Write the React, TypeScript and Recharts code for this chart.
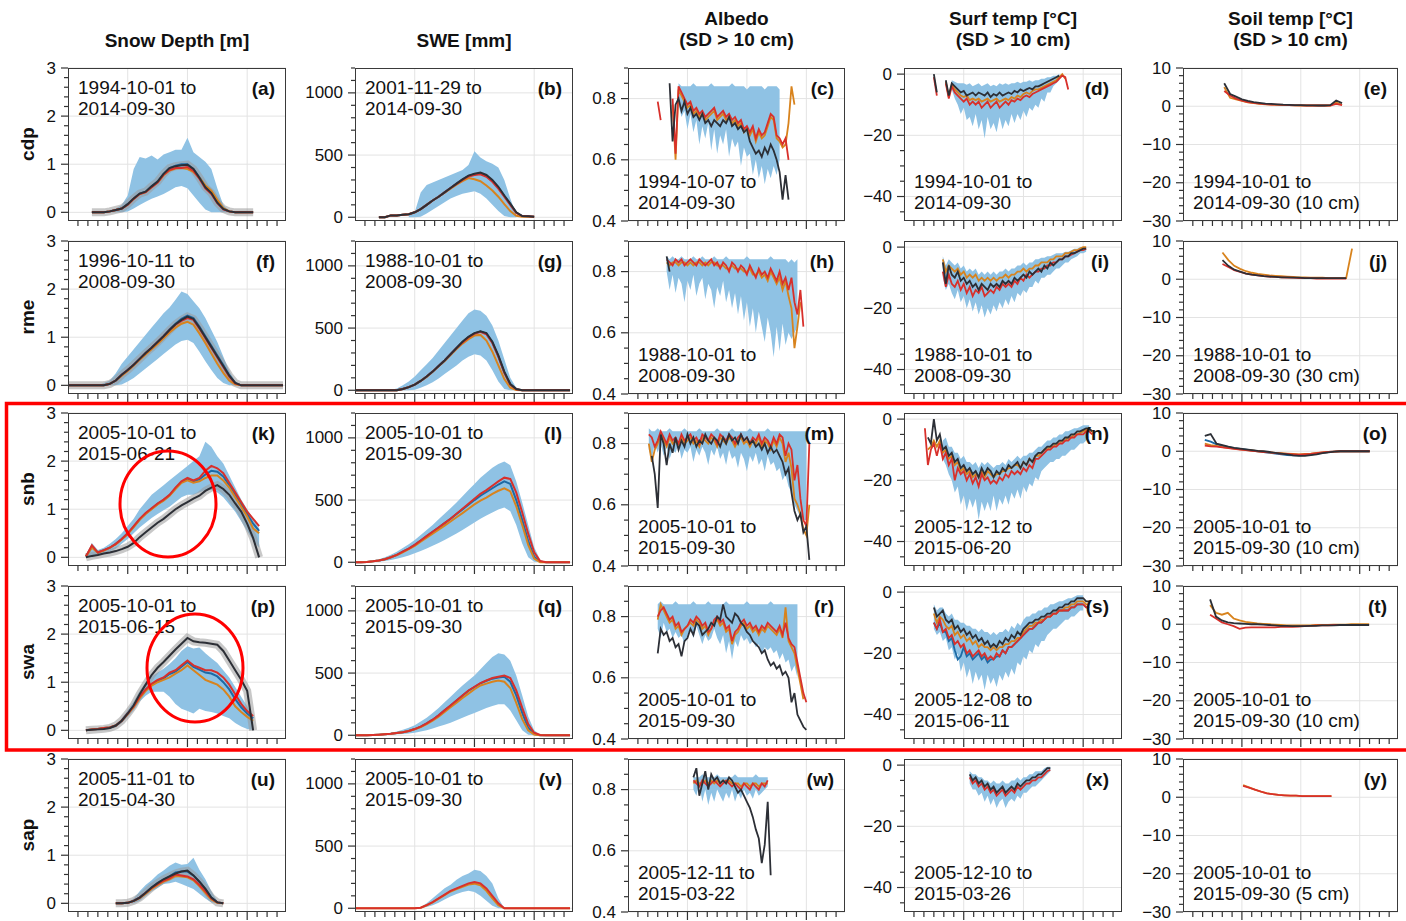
import React from "react";
import { ComposedChart, Line, Area, XAxis, YAxis, CartesianGrid } from "recharts";

// ---- layout ----
const FONT = '"Liberation Sans", Arial, Helvetica, sans-serif';
const AW = 60; // y-axis width
const MT = 12;
const MR = 2;
const PH = 153; // plot height
const XH = 12; // x-axis height
const ROW_TOPS = [68, 241, 413, 586, 759];
const ROW_NAMES = ["cdp", "rme", "snb", "swa", "sap"];

const C = {
  band: "#8fc2e4",
  red: "#d8302b",
  org: "#d8831d",
  blk: "#2c2f36",
  blu: "#1d6aa5",
  halo: "#9a9a9a",
  grid: "#e3e3e3",
  frame: "#3a3a3a",
};

// ---- axis ticks ----
const xTicks = [16.67, 33.33, 50, 66.67, 83.33, 100, 116.67, 133.33, 150, 166.67, 183.33, 200, 216.67, 233.33, 250, 266.67, 283.33, 300, 316.67, 333.33, 350];
const xMajor = [100, 200, 300];
const sdTicks = [0, 0.2, 0.4, 0.6, 0.8, 1, 1.2, 1.4, 1.6, 1.8, 2, 2.2, 2.4, 2.6, 2.8, 3];
const sdMajor = [0, 1, 2, 3];
const sweTicks = [0, 100, 200, 300, 400, 500, 600, 700, 800, 900, 1000, 1100, 1200];
const sweMajor = [0, 500, 1000];
const albTicks = [0.4, 0.45, 0.5, 0.55, 0.6, 0.65, 0.7, 0.75, 0.8, 0.85, 0.9];
const albMajor = [0.4, 0.6, 0.8];
const surfTicks = [-45, -40, -35, -30, -25, -20, -15, -10, -5, 0];
const surfMajor = [-40, -20, 0];
const soilTicks = [-30, -28, -26, -24, -22, -20, -18, -16, -14, -12, -10, -8, -6, -4, -2, 0, 2, 4, 6, 8, 10];
const soilMajor = [-30, -20, -10, 0, 10];

// ---- column titles ----
const TITLES = [
  ["Snow Depth [m]"],
  ["SWE [mm]"],
  ["Albedo", "(SD > 10 cm)"],
  ["Surf temp [°C]", "(SD > 10 cm)"],
  ["Soil temp [°C]", "(SD > 10 cm)"],
];

// ================= DATA (day of water year) =================
// (a) cdp snow depth, start 40, step 10
const aObs = [0, 0, 0, 0.02, 0.05, 0.08, 0.17, 0.29, 0.39, 0.43, 0.54, 0.64, 0.8, 0.92, 0.96, 0.98, 0.99, 0.9, 0.72, 0.52, 0.4, 0.2, 0.07, 0.02, 0, 0, 0, 0];
const aRed = [0, 0, 0, 0.02, 0.05, 0.08, 0.16, 0.28, 0.38, 0.42, 0.52, 0.62, 0.78, 0.88, 0.92, 0.92, 0.94, 0.86, 0.7, 0.5, 0.38, 0.19, 0.06, 0.02, 0, 0, 0, 0];
const aOrg = [0, 0, 0, 0.02, 0.05, 0.08, 0.16, 0.28, 0.38, 0.42, 0.52, 0.62, 0.77, 0.87, 0.91, 0.92, 0.9, 0.84, 0.72, 0.56, 0.45, 0.26, 0.09, 0.02, 0, 0, 0, 0];
const aBlu = [0, 0, 0, 0.02, 0.05, 0.08, 0.17, 0.29, 0.39, 0.43, 0.54, 0.64, 0.8, 0.92, 0.97, 1.0, 1.0, 0.9, 0.73, 0.53, 0.41, 0.21, 0.07, 0.02, 0, 0, 0, 0];
const aLo = [null, null, null, 0, 0, 0, 0.02, 0.08, 0.15, 0.22, 0.28, 0.33, 0.38, 0.45, 0.52, 0.55, 0.5, 0.35, 0.2, 0.06, 0, 0, 0, 0];
const aHi = [null, null, null, 0.05, 0.08, 0.15, 0.35, 0.9, 1.15, 1.12, 1.18, 1.1, 1.2, 1.25, 1.3, 1.3, 1.55, 1.25, 1.15, 1.05, 0.9, 0.5, 0.15, 0.03];

// (f) rme snow depth, start 0, step 10
const fObs = [0, 0, 0, 0, 0, 0, 0, 0.03, 0.1, 0.22, 0.32, 0.43, 0.55, 0.67, 0.78, 0.9, 1.02, 1.15, 1.27, 1.36, 1.43, 1.38, 1.2, 1.0, 0.8, 0.6, 0.4, 0.2, 0.05, 0, 0, 0, 0, 0, 0, 0, 0];
const fRed = [0, 0, 0, 0, 0, 0, 0, 0.03, 0.1, 0.22, 0.32, 0.43, 0.55, 0.67, 0.78, 0.9, 1.02, 1.15, 1.26, 1.34, 1.4, 1.36, 1.18, 0.98, 0.78, 0.58, 0.38, 0.18, 0.04, 0, 0, 0, 0, 0, 0, 0, 0];
const fOrg = [0, 0, 0, 0, 0, 0, 0, 0.03, 0.1, 0.2, 0.3, 0.41, 0.53, 0.64, 0.75, 0.86, 0.98, 1.1, 1.2, 1.28, 1.32, 1.26, 1.08, 0.88, 0.66, 0.45, 0.26, 0.1, 0.02, 0, 0, 0, 0, 0, 0, 0, 0];
const fBlu = [0, 0, 0, 0, 0, 0, 0, 0.03, 0.1, 0.22, 0.32, 0.43, 0.55, 0.67, 0.78, 0.9, 1.02, 1.16, 1.28, 1.38, 1.45, 1.4, 1.22, 1.02, 0.82, 0.62, 0.42, 0.21, 0.05, 0, 0, 0, 0, 0, 0, 0, 0];
const fLo = [0, 0, 0, 0, 0, 0, 0, 0, 0, 0.02, 0.08, 0.15, 0.25, 0.35, 0.45, 0.55, 0.65, 0.75, 0.85, 0.92, 0.95, 0.88, 0.7, 0.5, 0.32, 0.15, 0.05, 0, 0, 0, 0, 0, 0, 0, 0, 0, 0];
const fHi = [0, 0, 0, 0, 0, 0, 0.05, 0.1, 0.25, 0.45, 0.6, 0.75, 0.9, 1.05, 1.2, 1.35, 1.5, 1.62, 1.78, 1.95, 1.9, 1.75, 1.6, 1.4, 1.15, 0.9, 0.6, 0.3, 0.08, 0, 0, 0, 0, 0, 0, 0, 0];

// (k) snb snow depth, start 30, step 10
const kObs = [0, 0.03, 0.05, 0.08, 0.1, 0.13, 0.17, 0.22, 0.3, 0.42, 0.52, 0.62, 0.72, 0.8, 0.9, 1.0, 1.08, 1.15, 1.22, 1.28, 1.38, 1.45, 1.5, 1.42, 1.3, 1.12, 0.95, 0.7, 0.4, 0];
const kRed = [0.02, 0.25, 0.1, 0.15, 0.2, 0.28, 0.38, 0.5, 0.65, 0.8, 0.92, 1.02, 1.12, 1.2, 1.3, 1.45, 1.58, 1.65, 1.6, 1.65, 1.8, 1.9, 1.85, 1.75, 1.55, 1.35, 1.15, 0.95, 0.8, 0.65];
const kOrg = [0.02, 0.2, 0.1, 0.14, 0.2, 0.27, 0.37, 0.48, 0.63, 0.78, 0.9, 1.0, 1.1, 1.18, 1.28, 1.42, 1.55, 1.6, 1.55, 1.58, 1.65, 1.7, 1.7, 1.6, 1.45, 1.25, 1.05, 0.85, 0.6, 0.5];
const kBlu = [0.02, 0.22, 0.1, 0.15, 0.2, 0.28, 0.38, 0.5, 0.64, 0.79, 0.91, 1.01, 1.11, 1.19, 1.29, 1.44, 1.56, 1.63, 1.58, 1.62, 1.72, 1.8, 1.78, 1.68, 1.5, 1.3, 1.1, 0.9, 0.7, 0.55];
const kLo = [0, 0, 0.05, 0.08, 0.12, 0.18, 0.28, 0.38, 0.5, 0.62, 0.72, 0.82, 0.9, 0.98, 1.05, 1.15, 1.25, 1.3, 1.3, 1.35, 1.4, 1.4, 1.35, 1.25, 1.1, 0.95, 0.75, 0.55, 0.35, 0.2];
const kHi = [0.05, 0.3, 0.15, 0.2, 0.28, 0.38, 0.5, 0.65, 0.8, 1.0, 1.15, 1.3, 1.4, 1.5, 1.6, 1.7, 1.8, 1.9, 2.0, 2.1, 2.4, 2.3, 2.1, 1.95, 1.7, 1.45, 1.2, 1.0, 0.8, 0.6];

// (p) swa snow depth, start 30, step 10
const pObs = [0, 0.01, 0.02, 0.03, 0.05, 0.1, 0.2, 0.35, 0.52, 0.75, 0.95, 1.15, 1.3, 1.42, 1.55, 1.68, 1.8, 1.92, 1.85, 1.83, 1.82, 1.8, 1.78, 1.65, 1.45, 1.25, 1.05, 0.82, 0];
const pRed = [0, 0.02, 0.03, 0.05, 0.06, 0.1, 0.2, 0.35, 0.5, 0.7, 0.85, 0.97, 1.05, 1.1, 1.2, 1.25, 1.35, 1.45, 1.35, 1.3, 1.25, 1.25, 1.2, 1.1, 0.95, 0.75, 0.55, 0.4, 0.3];
const pOrg = [0, 0.02, 0.03, 0.05, 0.06, 0.1, 0.2, 0.34, 0.48, 0.67, 0.82, 0.93, 1.0, 1.05, 1.1, 1.18, 1.25, 1.35, 1.25, 1.15, 1.05, 1.0, 0.95, 0.85, 0.7, 0.5, 0.38, 0.28, 0.2];
const pBlu = [0, 0.02, 0.03, 0.05, 0.06, 0.1, 0.2, 0.35, 0.5, 0.69, 0.84, 0.95, 1.03, 1.08, 1.17, 1.22, 1.32, 1.42, 1.32, 1.26, 1.2, 1.18, 1.12, 1.0, 0.85, 0.65, 0.48, 0.35, 0.25];
const pLo = [0, 0, 0, 0.02, 0.03, 0.06, 0.15, 0.28, 0.42, 0.6, 0.72, 0.8, 0.8, 0.8, 0.7, 0.55, 0.45, 0.4, 0.35, 0.45, 0.4, 0.38, 0.35, 0.3, 0.25, 0.15, 0.08, 0.03, 0];
const pHi = [0.02, 0.03, 0.05, 0.06, 0.08, 0.12, 0.25, 0.42, 0.6, 0.82, 1.0, 1.12, 1.2, 1.28, 1.38, 1.5, 1.65, 1.75, 1.7, 1.72, 1.6, 1.5, 1.4, 1.25, 1.1, 0.9, 0.7, 0.5, 0.3];

// (u) sap snow depth, start 80, step 10
const uObs = [0, 0, 0.01, 0.05, 0.12, 0.22, 0.33, 0.42, 0.5, 0.56, 0.62, 0.66, 0.68, 0.58, 0.45, 0.3, 0.12, 0.02, 0];
const uRed = [0, 0, 0.01, 0.05, 0.12, 0.22, 0.32, 0.4, 0.47, 0.52, 0.6, 0.58, 0.56, 0.5, 0.38, 0.25, 0.1, 0.02, 0];
const uOrg = [0, 0, 0.01, 0.05, 0.11, 0.2, 0.3, 0.38, 0.45, 0.5, 0.57, 0.56, 0.54, 0.48, 0.36, 0.22, 0.08, 0.01, 0];
const uBlu = [0, 0, 0.01, 0.05, 0.12, 0.22, 0.33, 0.42, 0.5, 0.56, 0.64, 0.66, 0.66, 0.58, 0.45, 0.3, 0.12, 0.02, 0];
const uLo = [null, null, 0, 0, 0.05, 0.15, 0.25, 0.32, 0.4, 0.42, 0.45, 0.4, 0.35, 0.3, 0.2, 0.1, 0.02, 0, 0];
const uHi = [null, null, 0.02, 0.1, 0.25, 0.38, 0.48, 0.6, 0.68, 0.78, 0.85, 0.8, 0.82, 0.95, 0.7, 0.5, 0.25, 0.05, 0];

// (b) cdp SWE, start 40, step 10
const bObs = [0, 0, 15, 15, 20, 25, 40, 65, 100, 135, 165, 200, 235, 270, 305, 335, 350, 360, 340, 300, 245, 175, 110, 40, 10, 8, 5];
const bRed = [0, 0, 15, 15, 20, 25, 40, 65, 100, 135, 165, 200, 235, 268, 300, 328, 340, 345, 325, 285, 230, 165, 100, 35, 10, 8, 5];
const bOrg = [0, 0, 15, 15, 20, 25, 40, 65, 100, 135, 165, 198, 230, 262, 290, 315, 305, 290, 255, 215, 165, 105, 50, 12, 5, 5, 5];
const bBlu = [0, 0, 15, 15, 20, 25, 40, 65, 100, 135, 165, 200, 235, 270, 302, 332, 345, 352, 332, 292, 238, 170, 105, 38, 10, 8, 5];
const bLo = [null, null, null, null, null, 0, 0, 5, 30, 60, 90, 120, 150, 170, 190, 200, 210, 190, 150, 100, 50, 10, 0, 0];
const bHi = [null, null, null, null, null, 20, 40, 200, 260, 280, 300, 320, 340, 360, 380, 420, 530, 480, 450, 430, 400, 300, 150, 20];

// (g) rme SWE, start 0, step 10
const gObs = [0, 0, 0, 0, 0, 0, 0, 0, 10, 25, 45, 75, 110, 150, 195, 240, 290, 340, 390, 430, 460, 475, 460, 390, 280, 150, 50, 10, 0, 0, 0, 0, 0, 0, 0, 0, 0];
const gRed = [0, 0, 0, 0, 0, 0, 0, 0, 10, 25, 45, 75, 110, 150, 195, 240, 290, 340, 385, 425, 455, 470, 450, 380, 270, 140, 45, 8, 0, 0, 0, 0, 0, 0, 0, 0, 0];
const gOrg = [0, 0, 0, 0, 0, 0, 0, 0, 10, 25, 45, 75, 108, 148, 192, 236, 284, 332, 375, 410, 440, 445, 400, 310, 200, 90, 20, 2, 0, 0, 0, 0, 0, 0, 0, 0, 0];
const gBlu = [0, 0, 0, 0, 0, 0, 0, 0, 10, 25, 45, 75, 110, 150, 195, 240, 290, 340, 388, 428, 458, 472, 455, 385, 275, 145, 48, 9, 0, 0, 0, 0, 0, 0, 0, 0, 0];
const gLo = [0, 0, 0, 0, 0, 0, 0, 0, 0, 0, 5, 20, 40, 65, 95, 130, 165, 200, 240, 270, 290, 280, 240, 160, 70, 10, 0, 0, 0, 0, 0, 0, 0, 0, 0, 0, 0];
const gHi = [0, 0, 0, 0, 0, 0, 5, 15, 40, 70, 110, 160, 210, 260, 320, 380, 440, 500, 560, 620, 650, 640, 600, 520, 400, 250, 100, 20, 0, 0, 0, 0, 0, 0, 0, 0, 0];

// (l) snb SWE, start 0, step 10
const lRed = [0, 0, 3, 8, 15, 25, 40, 60, 85, 110, 140, 175, 210, 245, 280, 315, 350, 390, 430, 470, 510, 550, 580, 615, 650, 680, 670, 560, 400, 230, 80, 10, 0, 0, 0, 0, 0];
const lBlu = [0, 0, 3, 8, 15, 25, 40, 60, 85, 110, 140, 175, 210, 245, 280, 315, 350, 388, 425, 462, 500, 535, 565, 595, 625, 650, 630, 500, 340, 170, 45, 5, 0, 0, 0, 0, 0];
const lOrg = [0, 0, 3, 8, 15, 25, 40, 58, 80, 105, 132, 165, 198, 230, 262, 295, 328, 362, 395, 430, 465, 495, 520, 550, 575, 595, 570, 450, 300, 140, 30, 0, 0, 0, 0, 0, 0];
const lLo = [0, 0, 0, 2, 5, 10, 18, 28, 40, 55, 72, 90, 110, 132, 155, 180, 205, 232, 260, 290, 320, 350, 375, 400, 425, 440, 410, 300, 150, 40, 5, 0, 0, 0, 0, 0, 0];
const lHi = [0, 0, 6, 15, 25, 40, 60, 85, 115, 145, 180, 220, 260, 300, 345, 390, 435, 480, 530, 580, 630, 680, 720, 760, 790, 810, 780, 650, 480, 300, 120, 20, 0, 0, 0, 0, 0];

// (q) swa SWE, start 0, step 10
const qRed = [0, 0, 0, 2, 5, 8, 12, 18, 25, 35, 50, 70, 95, 125, 160, 200, 240, 280, 320, 360, 390, 420, 440, 460, 470, 480, 460, 360, 220, 90, 20, 2, 0, 0, 0, 0, 0];
const qBlu = [0, 0, 0, 2, 5, 8, 12, 18, 25, 35, 50, 70, 95, 125, 160, 200, 240, 280, 320, 358, 388, 418, 438, 455, 465, 470, 430, 320, 180, 60, 10, 0, 0, 0, 0, 0, 0];
const qOrg = [0, 0, 0, 2, 5, 8, 12, 18, 25, 35, 48, 66, 90, 118, 150, 188, 225, 262, 300, 335, 370, 400, 415, 430, 440, 430, 380, 260, 130, 40, 5, 0, 0, 0, 0, 0, 0];
const qLo = [0, 0, 0, 0, 0, 2, 5, 8, 10, 15, 20, 30, 40, 55, 70, 85, 100, 120, 140, 160, 180, 200, 220, 235, 250, 250, 200, 120, 40, 5, 0, 0, 0, 0, 0, 0, 0];
const qHi = [0, 0, 0, 5, 10, 15, 20, 30, 45, 60, 80, 110, 140, 180, 220, 265, 310, 355, 400, 440, 480, 530, 580, 630, 660, 650, 600, 480, 320, 150, 40, 5, 0, 0, 0, 0, 0];

// (v) sap SWE, start 0, step 10
const vRed = [0, 0, 0, 0, 0, 0, 0, 0, 0, 0, 0, 5, 25, 50, 80, 110, 140, 160, 180, 200, 210, 200, 160, 100, 40, 0, 0, 0, 0, 0, 0, 0, 0, 0, 0, 0, 0];
const vOrg = [0, 0, 0, 0, 0, 0, 0, 0, 0, 0, 0, 5, 24, 48, 77, 106, 135, 155, 172, 190, 198, 185, 140, 80, 25, 0, 0, 0, 0, 0, 0, 0, 0, 0, 0, 0, 0];
const vLo = [null, null, null, null, null, null, null, null, null, null, null, 0, 10, 25, 45, 70, 95, 115, 130, 140, 130, 100, 60, 20, 0, 0];
const vHi = [null, null, null, null, null, null, null, null, null, null, null, 10, 40, 80, 120, 160, 190, 230, 260, 280, 310, 300, 260, 200, 80, 0];

// (c) cdp albedo, start 50, step 5
const cObs = [null, null, null, null, 0.85, 0.66, 0.78, 0.8, 0.76, 0.79, 0.75, 0.77, 0.74, 0.75, 0.73, 0.75, 0.72, 0.73, 0.71, 0.73, 0.72, 0.71, 0.73, 0.72, 0.74, 0.71, 0.72, 0.7, 0.71, 0.69, 0.7, 0.66, 0.64, 0.62, 0.63, 0.61, 0.64, 0.62, 0.65, 0.63, 0.6, 0.56, 0.47, 0.55, 0.47];
const cRed = [0.79, 0.73, null, null, null, 0.8, 0.62, 0.84, 0.82, 0.8, 0.78, 0.79, 0.76, 0.77, 0.75, 0.76, 0.74, 0.75, 0.76, 0.77, 0.74, 0.75, 0.76, 0.74, 0.75, 0.73, 0.74, 0.72, 0.73, 0.7, 0.71, 0.69, 0.71, 0.67, 0.7, 0.68, 0.69, 0.72, 0.75, 0.74, 0.68, 0.67, 0.65, 0.67, 0.6];
const cOrg = [null, null, null, null, null, 0.78, 0.6, 0.83, 0.81, 0.79, 0.77, 0.78, 0.75, 0.76, 0.74, 0.75, 0.73, 0.74, 0.75, 0.76, 0.73, 0.74, 0.75, 0.73, 0.74, 0.72, 0.73, 0.71, 0.72, 0.69, 0.7, 0.68, 0.7, 0.66, 0.69, 0.67, 0.68, 0.71, 0.74, 0.73, 0.67, 0.66, 0.64, 0.65, 0.72, 0.84, 0.78];
const cLo = [null, null, null, null, null, null, null, 0.78, 0.74, 0.76, 0.7, 0.75, 0.69, 0.73, 0.65, 0.71, 0.67, 0.72, 0.63, 0.7, 0.62, 0.68, 0.65, 0.7, 0.61, 0.67, 0.64, 0.66, 0.58, 0.64, 0.61, 0.62, 0.55, 0.6, 0.54, 0.58, 0.52, 0.57, 0.54, 0.58, 0.55, 0.6];
const cHi = [null, null, null, null, null, null, null, 0.85, 0.84, 0.84, 0.84, 0.84, 0.85, 0.84, 0.84, 0.84, 0.84, 0.84, 0.85, 0.84, 0.84, 0.84, 0.84, 0.84, 0.84, 0.85, 0.84, 0.84, 0.84, 0.84, 0.83, 0.84, 0.84, 0.84, 0.84, 0.84, 0.83, 0.84, 0.84, 0.84, 0.84, 0.83];

// (h) rme albedo, start 65, step 5
const hObs = [0.85, 0.8];
const hRed = [0.84, 0.83, 0.82, 0.84, 0.83, 0.84, 0.82, 0.83, 0.84, 0.83, 0.82, 0.84, 0.83, 0.82, 0.83, 0.84, 0.82, 0.83, 0.81, 0.83, 0.82, 0.8, 0.83, 0.82, 0.8, 0.82, 0.81, 0.79, 0.82, 0.8, 0.78, 0.81, 0.79, 0.8, 0.78, 0.81, 0.79, 0.77, 0.8, 0.76, 0.78, 0.74, 0.78, 0.7, 0.66, 0.74, 0.62];
const hOrg = [0.83, 0.82, 0.83, 0.83, 0.82, 0.83, 0.83, 0.82, 0.83, 0.82, 0.83, 0.83, 0.82, 0.83, 0.82, 0.83, 0.83, 0.82, 0.82, 0.82, 0.81, 0.81, 0.82, 0.81, 0.81, 0.81, 0.8, 0.8, 0.81, 0.79, 0.79, 0.8, 0.78, 0.79, 0.77, 0.8, 0.78, 0.76, 0.78, 0.74, 0.77, 0.72, 0.68, 0.55, 0.62, 0.7];
const hLo = [0.8, 0.74, 0.79, 0.73, 0.78, 0.76, 0.7, 0.77, 0.74, 0.79, 0.72, 0.76, 0.78, 0.71, 0.76, 0.74, 0.68, 0.75, 0.72, 0.77, 0.7, 0.74, 0.68, 0.73, 0.66, 0.72, 0.64, 0.7, 0.62, 0.68, 0.6, 0.67, 0.62, 0.57, 0.65, 0.6, 0.52, 0.62, 0.54, 0.63, 0.56, 0.6, 0.58, 0.6, 0.62];
const hHi = [0.85, 0.84, 0.85, 0.84, 0.84, 0.85, 0.84, 0.84, 0.84, 0.85, 0.84, 0.84, 0.85, 0.84, 0.84, 0.84, 0.85, 0.84, 0.84, 0.84, 0.85, 0.84, 0.84, 0.84, 0.84, 0.84, 0.84, 0.85, 0.84, 0.84, 0.84, 0.84, 0.84, 0.84, 0.84, 0.85, 0.84, 0.84, 0.84, 0.84, 0.84, 0.83, 0.84, 0.83, 0.84];

// (m) snb albedo, start 35, step 5
const mObs = [null, 0.76, 0.7, 0.59, 0.83, 0.8, 0.73, 0.8, 0.77, 0.82, 0.78, 0.81, 0.79, 0.83, 0.8, 0.82, 0.79, 0.81, 0.8, 0.83, 0.81, 0.8, 0.82, 0.81, 0.79, 0.82, 0.8, 0.83, 0.81, 0.82, 0.8, 0.83, 0.81, 0.82, 0.8, 0.81, 0.79, 0.8, 0.78, 0.8, 0.77, 0.79, 0.77, 0.78, 0.76, 0.74, 0.7, 0.72, 0.64, 0.58, 0.55, 0.57, 0.51, 0.53, 0.42];
const mRed = [0.83, 0.82, 0.79, 0.81, 0.84, 0.82, 0.8, 0.83, 0.81, 0.82, 0.8, 0.83, 0.81, 0.82, 0.83, 0.81, 0.82, 0.8, 0.83, 0.82, 0.81, 0.83, 0.82, 0.8, 0.83, 0.82, 0.81, 0.83, 0.82, 0.8, 0.82, 0.83, 0.81, 0.82, 0.8, 0.82, 0.81, 0.83, 0.8, 0.82, 0.81, 0.79, 0.82, 0.8, 0.83, 0.82, 0.76, 0.8, 0.78, 0.68, 0.73, 0.62, 0.55, 0.53, 0.8];
const mOrg = [0.8, 0.74, 0.78, 0.8, 0.83, 0.81, 0.79, 0.82, 0.8, 0.81, 0.79, 0.82, 0.8, 0.81, 0.82, 0.8, 0.81, 0.79, 0.82, 0.81, 0.8, 0.82, 0.81, 0.79, 0.82, 0.81, 0.8, 0.82, 0.81, 0.79, 0.81, 0.82, 0.8, 0.81, 0.79, 0.81, 0.8, 0.82, 0.79, 0.81, 0.8, 0.78, 0.81, 0.79, 0.82, 0.8, 0.74, 0.77, 0.72, 0.62, 0.6, 0.57, 0.52, 0.5, 0.6];
const mLo = [0.78, 0.75, 0.8, 0.77, 0.8, 0.76, 0.79, 0.75, 0.78, 0.77, 0.8, 0.75, 0.78, 0.77, 0.79, 0.74, 0.78, 0.76, 0.79, 0.77, 0.73, 0.78, 0.76, 0.79, 0.75, 0.77, 0.73, 0.78, 0.75, 0.76, 0.72, 0.77, 0.75, 0.71, 0.76, 0.74, 0.77, 0.73, 0.75, 0.71, 0.76, 0.73, 0.74, 0.71, 0.72, 0.68, 0.7, 0.66, 0.64, 0.6, 0.58, 0.56, 0.55, 0.55];
const mHi = [0.85, 0.84, 0.84, 0.85, 0.84, 0.84, 0.84, 0.85, 0.84, 0.84, 0.84, 0.84, 0.85, 0.84, 0.84, 0.84, 0.84, 0.85, 0.84, 0.84, 0.84, 0.84, 0.84, 0.85, 0.84, 0.84, 0.84, 0.84, 0.85, 0.84, 0.84, 0.84, 0.84, 0.84, 0.85, 0.84, 0.84, 0.84, 0.84, 0.84, 0.85, 0.84, 0.84, 0.84, 0.84, 0.84, 0.84, 0.84, 0.84, 0.84, 0.84, 0.84, 0.84, 0.84];

// (r) swa albedo, start 50, step 5
const rObs = [0.68, 0.76, 0.74, 0.75, 0.72, 0.73, 0.7, 0.71, 0.67, 0.72, 0.73, 0.76, 0.74, 0.78, 0.77, 0.74, 0.75, 0.76, 0.78, 0.77, 0.8, 0.79, 0.84, 0.8, 0.79, 0.78, 0.81, 0.8, 0.78, 0.77, 0.75, 0.74, 0.72, 0.71, 0.7, 0.68, 0.69, 0.66, 0.64, 0.65, 0.63, 0.64, 0.61, 0.62, 0.6, 0.52, 0.55, 0.48, 0.46, 0.44, 0.43];
const rRed = [0.8, 0.82, 0.83, 0.81, 0.79, 0.8, 0.77, 0.78, 0.75, 0.76, 0.77, 0.79, 0.78, 0.8, 0.79, 0.77, 0.78, 0.75, 0.76, 0.79, 0.8, 0.78, 0.79, 0.76, 0.77, 0.72, 0.75, 0.76, 0.78, 0.79, 0.77, 0.78, 0.76, 0.77, 0.75, 0.77, 0.76, 0.78, 0.77, 0.76, 0.75, 0.77, 0.74, 0.78, 0.73, 0.71, 0.7, 0.65, 0.6, 0.55, 0.52];
const rOrg = [0.79, 0.84, 0.82, 0.8, 0.78, 0.79, 0.76, 0.77, 0.74, 0.76, 0.77, 0.78, 0.77, 0.79, 0.78, 0.76, 0.77, 0.74, 0.76, 0.78, 0.79, 0.77, 0.78, 0.75, 0.76, 0.71, 0.74, 0.75, 0.77, 0.78, 0.76, 0.77, 0.75, 0.76, 0.74, 0.76, 0.75, 0.77, 0.76, 0.75, 0.74, 0.76, 0.73, 0.83, 0.72, 0.7, 0.68, 0.63, 0.58, 0.53];
const rLo = [0.76, 0.73, 0.78, 0.75, 0.76, 0.73, 0.75, 0.73, 0.74, 0.71, 0.74, 0.76, 0.73, 0.77, 0.74, 0.71, 0.74, 0.72, 0.73, 0.76, 0.73, 0.71, 0.74, 0.68, 0.72, 0.66, 0.72, 0.7, 0.74, 0.72, 0.73, 0.71, 0.72, 0.7, 0.71, 0.68, 0.7, 0.69, 0.7, 0.68, 0.69, 0.66, 0.68, 0.65, 0.66, 0.62, 0.64, 0.6];
const rHi = [0.84, 0.85, 0.84, 0.84, 0.84, 0.84, 0.85, 0.84, 0.84, 0.84, 0.84, 0.84, 0.85, 0.84, 0.84, 0.84, 0.84, 0.85, 0.84, 0.84, 0.84, 0.84, 0.84, 0.85, 0.84, 0.84, 0.84, 0.84, 0.84, 0.84, 0.85, 0.84, 0.84, 0.84, 0.84, 0.84, 0.84, 0.84, 0.85, 0.84, 0.84, 0.84, 0.84, 0.84, 0.84, 0.84, 0.84, 0.84];

// (w) sap albedo, start 110, step 5
const wObs = [0.84, 0.87, 0.78, 0.82, 0.86, 0.8, 0.85, 0.83, 0.84, 0.82, 0.83, 0.82, 0.84, 0.83, 0.81, 0.79, 0.8, 0.78, 0.76, 0.74, 0.71, 0.67, 0.64, 0.56, 0.62, 0.76, 0.52];
const wRed = [0.83, 0.82, 0.81, 0.83, 0.82, 0.81, 0.82, 0.83, 0.82, 0.81, 0.82, 0.83, 0.82, 0.81, 0.82, 0.81, 0.8, 0.82, 0.81, 0.8, 0.82, 0.81, 0.8, 0.82, 0.81, 0.83];
const wOrg = [0.82, 0.83, 0.82, 0.82, 0.83, 0.82, 0.83, 0.82, 0.83, 0.82, 0.83, 0.82, 0.83, 0.82, 0.82, 0.82, 0.81, 0.82, 0.82, 0.81, 0.82, 0.82, 0.81, 0.82, 0.82, 0.82];
const wLo = [0.8, 0.78, 0.82, 0.76, 0.8, 0.75, 0.79, 0.76, 0.8, 0.78, 0.76, 0.79, 0.77, 0.8, 0.76, 0.79, 0.77, 0.8, 0.78, 0.79, 0.77, 0.8, 0.78, 0.79, 0.8, 0.81];
const wHi = [0.84, 0.84, 0.84, 0.85, 0.84, 0.84, 0.84, 0.84, 0.85, 0.84, 0.84, 0.84, 0.84, 0.84, 0.85, 0.84, 0.84, 0.84, 0.84, 0.84, 0.84, 0.85, 0.84, 0.84, 0.84, 0.84];

// (d) cdp surface temp, start 50, step 5
const dObs = [0, -6, null, null, -2, -7, -3, -4, -5, -6, -5.5, -7, -6.5, -6, -7, -6, -6.5, -7, -6, -7.5, -6.5, -7, -6, -7, -6.5, -6, -6.5, -5.5, -6, -5, -5.5, -5, -4.5, -5, -4, -4, -3.5, -3, -2.5, -2, -1.5, -1, -0.5];
const dRed = [-1, -7, null, null, -3, -8, -4, -6, -7, -8, -9, -8, -10, -9, -10, -9, -11, -10, -9, -11, -10, -9, -11, -10, -9, -10, -8.5, -9, -8, -8.5, -7.5, -7, -7.5, -6.5, -6, -5.5, -5, -4.5, -4, -3.5, -3, -2.5, -1.5, -0.5, -1, -5];
const dOrg = [null, null, null, null, -2.5, -7.5, -3.5, -5, -6, -7, -7.5, -7, -8.5, -8, -8.5, -8, -9, -8.5, -8, -9, -8.5, -8, -9, -8.5, -8, -8.5, -7.5, -8, -7, -7.5, -6.5, -6, -6.5, -5.5, -5, -5, -4.5, -4, -3.5, -3, -2.5, -2, -1, 0, -1.5];
const dLo = [null, null, null, null, null, null, -5, -8, -10, -13, -11, -15, -14, -17, -13, -18, -15, -21, -14, -18, -16, -19, -14, -18, -15, -17, -13, -16, -13, -15, -12, -14, -11, -12, -10, -11, -8, -9, -6, -6, -4, -3, -2];
const dHi = [null, null, null, null, null, null, -2, -2.5, -3, -3, -3, -3.5, -3, -4, -3.5, -3, -4, -3.5, -3, -4, -3.5, -4, -3, -3.5, -3, -3.5, -3, -3, -2.5, -3, -2.5, -2.5, -2, -2.5, -2, -2, -1.5, -1.5, -1, -1, -0.5, -0.5, 0];

// (i) rme surface temp, start 65, step 5
const iObs = [-5, -12, -6, -9, -10, -8, -11, -10, -12, -11, -13, -12, -14, -12, -13, -14, -12, -13, -12, -13, -11, -12, -11, -12, -10, -11, -10, -9, -10, -8, -9, -8, -7, -8, -6, -7, -5, -6, -5, -4, -4, -3, -3, -2, -2, -1.5, -1, -0.5, -0.5];
const iRed = [-8, -13, -9, -12, -13, -11, -14, -12, -15, -13, -16, -14, -15, -13, -16, -15, -14, -15, -13, -14, -12, -13, -12, -13, -11, -12, -10, -11, -9, -10, -9, -8, -8, -7, -7, -6, -6, -5, -5, -4, -4, -3, -3, -2.5, -2, -1.5, -1, -1, -0.5];
const iOrg = [-4, -8, -6, -7, -8, -7, -9, -8, -10, -9, -10, -9, -11, -10, -11, -10, -11, -10, -11, -10, -10, -9, -10, -9, -9, -8, -8, -7, -8, -7, -7, -6, -6, -5, -5, -5, -4, -4, -3, -3, -3, -2, -2, -1.5, -1, -1, -0.5, 0, 0];
const iLo = [-10, -14, -12, -15, -17, -14, -18, -16, -20, -17, -21, -18, -22, -19, -23, -20, -22, -19, -21, -18, -20, -17, -19, -16, -18, -15, -16, -14, -15, -13, -13, -11, -12, -10, -10, -9, -9, -8, -7, -7, -6, -5, -5, -4, -3.5, -3, -2, -2, -1.5];
const iHi = [-3, -6, -4, -5, -6, -5, -7, -6, -8, -7, -8, -7, -9, -8, -9, -8, -9, -8, -9, -8, -8, -7, -8, -7, -7, -6, -6, -5, -6, -5, -5, -4, -4, -3.5, -3.5, -3, -3, -2.5, -2, -2, -2, -1.5, -1.5, -1, -0.5, -0.5, 0, 0, 0];

// (n) snb surface temp, start 35, step 5
const nObs = [null, -6, -8, 0, -7, -5, -10, -9, -12, -11, -14, -13, -16, -15, -17, -16, -18, -17, -19, -16, -18, -16, -17, -19, -17, -18, -16, -17, -15, -16, -15, -14, -16, -14, -15, -13, -14, -12, -11, -11, -10, -9, -9, -8, -8, -7, -7, -6, -6, -5, -5, -4, -4, -3.5, -3, -3, -4];
const nRed = [-3, -15, -10, -8, -12, -8, -13, -11, -15, -13, -20, -16, -18, -17, -20, -18, -21, -19, -22, -18, -20, -19, -21, -20, -21, -19, -20, -18, -19, -17, -18, -17, -18, -16, -17, -15, -16, -13, -13, -12, -11, -10, -10, -9, -9, -8, -8, -7, -7, -6, -6, -5, -5, -5, -4, -4, -5];
const nOrg = [null, -10, -9, -7, -9, -7, -11, -10, -13, -12, -15, -14, -17, -16, -18, -17, -19, -18, -19, -17, -19, -17, -18, -19, -18, -18, -17, -17, -16, -16, -15, -15, -16, -14, -15, -13, -14, -12, -12, -11, -10, -10, -9, -9, -8, -8, -7, -7, -6, -6, -5, -5, -4.5, -4, -3.5, -3.5, -4];
const nLo = [null, null, null, null, null, null, -13, -15, -18, -20, -24, -22, -28, -25, -30, -26, -29, -26, -33, -27, -30, -27, -30, -25, -30, -26, -28, -25, -28, -24, -26, -23, -26, -22, -24, -21, -22, -19, -20, -17, -16, -15, -14, -14, -13, -13, -12, -12, -11, -10, -10, -9, -8, -8, -7, -6];
const nHi = [null, null, null, null, null, null, -7, -6, -9, -9, -11, -11, -13, -12, -14, -14, -15, -14, -16, -14, -15, -14, -15, -16, -15, -15, -14, -15, -13, -14, -13, -12, -13, -12, -12, -11, -11, -10, -9, -9, -8, -7, -7, -6, -6, -5, -5, -4, -4, -3.5, -3, -3, -2.5, -2, -2, -2];

// (s) swa surface temp, start 50, step 5
const sObs = [-5, -8, -7, -6, -9, -10, -9, -12, -11, -13, -12, -14, -13, -15, -14, -16, -15, -17, -16, -18, -17, -18, -16, -17, -15, -16, -14, -15, -13, -14, -12, -11, -10, -10, -9, -9, -8, -8, -7, -7, -6, -6, -5, -5, -4, -4, -3, -3, -2, -2, -2, -3, -3];
const sRed = [-10, -12, -9, -13, -12, -15, -14, -17, -16, -18, -17, -20, -19, -21, -20, -19, -21, -20, -22, -21, -22, -20, -21, -19, -20, -18, -18, -17, -16, -15, -14, -13, -12, -12, -11, -10, -10, -9, -8, -8, -7, -7, -6, -6, -6, -6, -5, -5, -4, -4, -4, -5, -5];
const sOrg = [-7, -10, -8, -9, -11, -12, -11, -14, -13, -15, -14, -16, -15, -17, -16, -18, -17, -18, -18, -19, -18, -19, -18, -18, -17, -17, -16, -16, -15, -15, -13, -12, -11, -11, -10, -10, -9, -9, -8, -8, -7, -7, -6, -6, -5, -5, -4, -4, -3, -3, -3, -4, -4];
const sBlu = [-10, -12, -10, -13, -13, -16, -15, -19, -22, -21, -18, -21, -20, -22, -21, -20, -22, -21, -23, -22, -22, -21, -21, -19, -20, -18, -18, -17, -16, -15, -14, -13, -12, -12, -11, -10, -10, -9, -8, -8, -7, -7, -6, -6, -6, -6, -5, -5, -4, -4, -4, -5, -5];
const sLo = [-12, -14, -13, -16, -15, -19, -18, -22, -20, -26, -23, -28, -25, -30, -26, -29, -27, -32, -27, -30, -28, -31, -27, -29, -26, -28, -25, -27, -23, -24, -21, -22, -19, -20, -17, -18, -16, -16, -14, -13, -12, -12, -11, -10, -9, -9, -8, -8, -7, -6, -6];
const sHi = [-4, -6, -5, -5, -7, -8, -7, -9, -9, -10, -10, -11, -11, -12, -12, -13, -12, -13, -13, -14, -13, -14, -13, -13, -12, -13, -11, -12, -10, -11, -9, -8, -8, -7, -7, -6, -6, -5, -5, -4, -4, -3.5, -3, -3, -2.5, -2, -2, -1.5, -1, -1, -1];

// (x) sap surface temp, start 110, step 5
const xObs = [-3, -5, -4, -6, -5, -7, -6, -8, -7, -9, -8, -7, -9, -8, -7, -8, -6, -7, -6, -5, -5, -4, -4, -3, -3, -2, -1, -1];
const xRed = [-4, -6, -5, -7, -6, -8, -7, -9, -8, -10, -9, -8, -10, -9, -8, -9, -7, -8, -7, -6, -6, -5, -5, -4, -4, -3, -2, -1.5];
const xLo = [-6, -8, -8, -10, -9, -12, -10, -13, -11, -14, -12, -11, -14, -12, -11, -12, -10, -11, -9, -9, -8, -7, -7, -6, -5, -4, -3, -2];
const xHi = [-2, -3, -3, -4, -4, -5, -5, -6, -5, -6, -6, -5, -6, -6, -5, -5, -4, -5, -4, -4, -3, -3, -2, -2, -2, -1, -0.5, -0.5];

// (e) cdp soil temp, start 70, step 10
const eObs = [6, 3.2, 2.5, 1.8, 1.4, 1.1, 0.9, 0.7, 0.6, 0.5, 0.4, 0.35, 0.3, 0.3, 0.25, 0.25, 0.2, 0.2, 0.3, 1.5, 0.8];
const eRed = [4, 2.8, 2.0, 1.5, 1.1, 0.9, 0.7, 0.55, 0.45, 0.4, 0.35, 0.3, 0.25, 0.25, 0.2, 0.2, 0.2, 0.2, 0.2, 0.6, 0.3];
const eOrg = [5, 2.2, 1.8, 1.4, 1.0, 0.8, 0.6, 0.5, 0.4, 0.35, 0.3, 0.3, 0.25, 0.2, 0.2, 0.2, 0.2, 0.2, 0.2, 1.0, 0.4];

// (j) rme soil temp, start 67, step 10
const jObs = [5, 3.5, 2.5, 2, 1.5, 1.2, 1, 0.8, 0.7, 0.6, 0.5, 0.5, 0.4, 0.4, 0.3, 0.3, 0.3, 0.3, 0.3, 0.3, 0.3, 0.3];
const jRed = [4, 3.2, 2.4, 1.9, 1.5, 1.2, 1, 0.8, 0.7, 0.6, 0.5, 0.4, 0.4, 0.3, 0.3, 0.3, 0.2, 0.2, 0.2, 0.2, 0.2, 0.2];
const jOrg = [7, 5, 3.5, 2.7, 2.1, 1.7, 1.4, 1.2, 1, 0.9, 0.8, 0.7, 0.6, 0.5, 0.5, 0.4, 0.4, 0.4, 0.3, 0.3, 0.3, 0.3, 8];

// (o) snb soil temp, start 37, step 10
const oObs = [4, 4.5, 2, 1.6, 1.2, 0.9, 0.7, 0.5, 0.3, 0.1, 0, -0.2, -0.4, -0.6, -0.8, -1.1, -1.2, -1.2, -1.0, -0.8, -0.5, -0.3, -0.1, 0, 0, 0, 0, 0, 0];
const oRed = [1.5, 1.3, 1.2, 1.0, 0.8, 0.6, 0.4, 0.3, 0.1, 0, -0.2, -0.3, -0.5, -0.6, -0.7, -0.8, -0.9, -0.8, -0.7, -0.5, -0.3, -0.2, -0.1, 0, 0, 0, 0, 0, 0];
const oOrg = [2, 1.6, 1.4, 1.1, 0.9, 0.7, 0.5, 0.3, 0.2, 0, -0.1, -0.3, -0.4, -0.5, -0.6, -0.7, -0.8, -0.7, -0.6, -0.4, -0.3, -0.2, -0.1, 0, 0, 0, 0, 0, 0];
const oBlu = [3, 2.5, 1.8, 1.4, 1.1, 0.8, 0.6, 0.4, 0.2, 0, -0.2, -0.4, -0.6, -0.8, -1.0, -1.1, -1.1, -1.0, -0.9, -0.6, -0.4, -0.2, -0.1, 0, 0, 0, 0, 0, 0];

// (t) swa soil temp, start 46, step 10
const tObs = [6.5, 2, 1, 0.5, 0.3, 0.2, 0.1, 0, 0, -0.1, -0.2, -0.3, -0.4, -0.4, -0.5, -0.5, -0.5, -0.4, -0.4, -0.3, -0.3, -0.3, -0.2, -0.2, -0.2, -0.2, -0.2, -0.2];
const tOrg = [5, 3, 2.5, 3, 1.5, 1, 0.6, 0.4, 0.2, 0.1, 0, -0.1, -0.2, -0.3, -0.3, -0.3, -0.3, -0.3, -0.2, -0.2, -0.2, -0.1, -0.1, -0.1, 0, 0, 0, 0];
const tRed = [2.5, 1.5, 0.5, 0, -0.5, -1.2, -0.9, -0.8, -0.8, -0.8, -0.8, -0.8, -0.7, -0.7, -0.7, -0.6, -0.5, -0.4, -0.3, -0.3, -0.3, -0.2, -0.2, -0.2, -0.2, -0.2, -0.2];

// (y) sap soil temp, start 102, step 10
const yRed = [3, 2.5, 2, 1.5, 1, 0.8, 0.6, 0.5, 0.4, 0.4, 0.3, 0.3, 0.3, 0.3, 0.3, 0.3];
const yOrg = [3.2, 2.6, 2, 1.5, 1.1, 0.8, 0.6, 0.5, 0.4, 0.4, 0.3, 0.3, 0.3, 0.3, 0.3, 0.3];

// ================= configuration =================
type Arr = (number | null)[];
type Col = { left: number; width: number; domain: [number, number]; ticks: number[]; major: number[]; textBottom: boolean };
const COLS: Col[] = [
  { left: 68, width: 218, domain: [-0.18, 3], ticks: sdTicks, major: sdMajor, textBottom: false },
  { left: 355, width: 218, domain: [-30, 1200], ticks: sweTicks, major: sweMajor, textBottom: false },
  { left: 628, width: 217, domain: [0.4, 0.9], ticks: albTicks, major: albMajor, textBottom: true },
  { left: 904, width: 218, domain: [-48, 2], ticks: surfTicks, major: surfMajor, textBottom: true },
  { left: 1183, width: 215, domain: [-30, 10], ticks: soilTicks, major: soilMajor, textBottom: true },
];

type PanelDef = {
  id: string; col: number; row: number; start: number; step: number;
  lo?: Arr; hi?: Arr; obs?: Arr; red?: Arr; org?: Arr; blu?: Arr;
  text: [string, string];
};

const PANELS: PanelDef[] = [
  { id: "a", col: 0, row: 0, start: 40, step: 10, lo: aLo, hi: aHi, obs: aObs, red: aRed, org: aOrg, blu: aBlu, text: ["1994-10-01 to", "2014-09-30"] },
  { id: "b", col: 1, row: 0, start: 40, step: 10, lo: bLo, hi: bHi, obs: bObs, red: bRed, org: bOrg, blu: bBlu, text: ["2001-11-29 to", "2014-09-30"] },
  { id: "c", col: 2, row: 0, start: 50, step: 5, lo: cLo, hi: cHi, obs: cObs, red: cRed, org: cOrg, text: ["1994-10-07 to", "2014-09-30"] },
  { id: "d", col: 3, row: 0, start: 50, step: 5, lo: dLo, hi: dHi, obs: dObs, red: dRed, org: dOrg, text: ["1994-10-01 to", "2014-09-30"] },
  { id: "e", col: 4, row: 0, start: 70, step: 10, obs: eObs, red: eRed, org: eOrg, text: ["1994-10-01 to", "2014-09-30 (10 cm)"] },
  { id: "f", col: 0, row: 1, start: 0, step: 10, lo: fLo, hi: fHi, obs: fObs, red: fRed, org: fOrg, blu: fBlu, text: ["1996-10-11 to", "2008-09-30"] },
  { id: "g", col: 1, row: 1, start: 0, step: 10, lo: gLo, hi: gHi, obs: gObs, red: gRed, org: gOrg, blu: gBlu, text: ["1988-10-01 to", "2008-09-30"] },
  { id: "h", col: 2, row: 1, start: 65, step: 5, lo: hLo, hi: hHi, obs: hObs, red: hRed, org: hOrg, text: ["1988-10-01 to", "2008-09-30"] },
  { id: "i", col: 3, row: 1, start: 65, step: 5, lo: iLo, hi: iHi, obs: iObs, red: iRed, org: iOrg, text: ["1988-10-01 to", "2008-09-30"] },
  { id: "j", col: 4, row: 1, start: 67, step: 10, obs: jObs, red: jRed, org: jOrg, text: ["1988-10-01 to", "2008-09-30 (30 cm)"] },
  { id: "k", col: 0, row: 2, start: 30, step: 10, lo: kLo, hi: kHi, obs: kObs, red: kRed, org: kOrg, blu: kBlu, text: ["2005-10-01 to", "2015-06-21"] },
  { id: "l", col: 1, row: 2, start: 0, step: 10, lo: lLo, hi: lHi, red: lRed, org: lOrg, blu: lBlu, text: ["2005-10-01 to", "2015-09-30"] },
  { id: "m", col: 2, row: 2, start: 35, step: 5, lo: mLo, hi: mHi, obs: mObs, red: mRed, org: mOrg, text: ["2005-10-01 to", "2015-09-30"] },
  { id: "n", col: 3, row: 2, start: 35, step: 5, lo: nLo, hi: nHi, obs: nObs, red: nRed, org: nOrg, text: ["2005-12-12 to", "2015-06-20"] },
  { id: "o", col: 4, row: 2, start: 37, step: 10, obs: oObs, red: oRed, org: oOrg, blu: oBlu, text: ["2005-10-01 to", "2015-09-30 (10 cm)"] },
  { id: "p", col: 0, row: 3, start: 30, step: 10, lo: pLo, hi: pHi, obs: pObs, red: pRed, org: pOrg, blu: pBlu, text: ["2005-10-01 to", "2015-06-15"] },
  { id: "q", col: 1, row: 3, start: 0, step: 10, lo: qLo, hi: qHi, red: qRed, org: qOrg, blu: qBlu, text: ["2005-10-01 to", "2015-09-30"] },
  { id: "r", col: 2, row: 3, start: 50, step: 5, lo: rLo, hi: rHi, obs: rObs, red: rRed, org: rOrg, text: ["2005-10-01 to", "2015-09-30"] },
  { id: "s", col: 3, row: 3, start: 50, step: 5, lo: sLo, hi: sHi, obs: sObs, red: sRed, org: sOrg, blu: sBlu, text: ["2005-12-08 to", "2015-06-11"] },
  { id: "t", col: 4, row: 3, start: 46, step: 10, obs: tObs, red: tRed, org: tOrg, text: ["2005-10-01 to", "2015-09-30 (10 cm)"] },
  { id: "u", col: 0, row: 4, start: 80, step: 10, lo: uLo, hi: uHi, obs: uObs, red: uRed, org: uOrg, blu: uBlu, text: ["2005-11-01 to", "2015-04-30"] },
  { id: "v", col: 1, row: 4, start: 0, step: 10, lo: vLo, hi: vHi, red: vRed, org: vOrg, text: ["2005-10-01 to", "2015-09-30"] },
  { id: "w", col: 2, row: 4, start: 110, step: 5, lo: wLo, hi: wHi, obs: wObs, red: wRed, org: wOrg, text: ["2005-12-11 to", "2015-03-22"] },
  { id: "x", col: 3, row: 4, start: 110, step: 5, lo: xLo, hi: xHi, obs: xObs, red: xRed, text: ["2005-12-10 to", "2015-03-26"] },
  { id: "y", col: 4, row: 4, start: 102, step: 10, red: yRed, org: yOrg, text: ["2005-10-01 to", "2015-09-30 (5 cm)"] },
];

const isIn = (v: number, list: number[]) => list.some((m) => Math.abs(m - v) < 1e-6);
const fmt = (v: number) => (v < 0 ? "\u2212" + Math.abs(v) : String(v));

function XTick(props: any) {
  const { x, payload } = props;
  const major = isIn(payload.value, xMajor);
  const y0 = MT + PH;
  return <line x1={x} x2={x} y1={y0} y2={y0 + (major ? 8 : 5)} stroke="#333" strokeWidth={1.2} />;
}

function makeYTick(col: Col) {
  return (props: any) => {
    const { y, payload } = props;
    const major = isIn(payload.value, col.major);
    return (
      <g>
        <line x1={AW - (major ? 7 : 4)} x2={AW} y1={y} y2={y} stroke="#333" strokeWidth={1.2} />
        {major && (
          <text x={AW - 12} y={y} textAnchor="end" dominantBaseline="central" fontSize={17} fontFamily={FONT} fill="#111">
            {fmt(payload.value)}
          </text>
        )}
      </g>
    );
  };
}

function Panel({ p }: { p: PanelDef }) {
  const col = COLS[p.col];
  const top = ROW_TOPS[p.row];
  const series = [p.lo, p.hi, p.obs, p.red, p.org, p.blu];
  const n = Math.max(...series.map((a) => (a ? a.length : 0)));
  const g = (a: Arr | undefined, i: number) => (a && a[i] != null ? (a[i] as number) : null);
  const data = [];
  for (let i = 0; i < n; i++) {
    const lo = g(p.lo, i);
    const hi = g(p.hi, i);
    data.push({
      x: p.start + i * p.step,
      band: lo != null && hi != null ? [lo, hi] : null,
      obs: g(p.obs, i),
      red: g(p.red, i),
      org: g(p.org, i),
      blu: g(p.blu, i),
    });
  }
  const isSD = p.col === 0;
  const lw = p.col <= 1 ? 2 : 1.8;
  const common = { type: "linear" as const, dot: false, activeDot: false, isAnimationActive: false, connectNulls: false };
  return (
    <div style={{ position: "absolute", left: col.left - AW, top: top - MT }}>
      <ComposedChart width={AW + col.width + MR} height={MT + PH + XH} data={data} margin={{ top: MT, right: MR, bottom: 0, left: 0 }}>
        <CartesianGrid stroke={C.grid} horizontalValues={col.major} verticalValues={xMajor} />
        <XAxis type="number" dataKey="x" domain={[0, 365]} ticks={xTicks} interval={0} tick={XTick} tickLine={false} axisLine={false} height={XH} allowDataOverflow />
        <YAxis type="number" domain={col.domain} ticks={col.ticks} interval={0} tick={makeYTick(col)} tickLine={false} axisLine={false} width={AW} allowDataOverflow />
        {p.lo && <Area {...common} dataKey="band" stroke="none" fill={C.band} fillOpacity={1} />}
        {isSD && p.obs && <Line {...common} dataKey="obs" stroke={C.halo} strokeOpacity={0.55} strokeWidth={8} />}
        {p.blu && <Line {...common} dataKey="blu" stroke={C.blu} strokeWidth={lw} />}
        {p.org && <Line {...common} dataKey="org" stroke={C.org} strokeWidth={lw} />}
        {p.red && <Line {...common} dataKey="red" stroke={C.red} strokeWidth={lw} />}
        {p.obs && <Line {...common} dataKey="obs" stroke={C.blk} strokeWidth={lw} />}
      </ComposedChart>
      <div
        style={{
          position: "absolute", left: AW, top: MT, width: col.width, height: PH,
          border: `1.5px solid ${C.frame}`, boxSizing: "border-box", pointerEvents: "none",
        }}
      />
    </div>
  );
}

export default function App() {
  return (
    <div style={{ position: "absolute", left: 0, top: 0, width: 1406, height: 921, background: "#fff", fontFamily: FONT, overflow: "hidden" }}>
      {PANELS.map((p) => (
        <Panel key={p.id} p={p} />
      ))}
      <svg width={1406} height={921} style={{ position: "absolute", left: 0, top: 0, pointerEvents: "none" }}>
        {TITLES.map((t, i) => {
          const c = COLS[i];
          const cx = c.left + c.width / 2;
          return t.length === 1 ? (
            <text key={i} x={cx} y={47} textAnchor="middle" fontSize={19} fontWeight="bold" fontFamily={FONT} fill="#111">{t[0]}</text>
          ) : (
            <g key={i}>
              <text x={cx} y={25} textAnchor="middle" fontSize={19} fontWeight="bold" fontFamily={FONT} fill="#111">{t[0]}</text>
              <text x={cx} y={46} textAnchor="middle" fontSize={19} fontWeight="bold" fontFamily={FONT} fill="#111">{t[1]}</text>
            </g>
          );
        })}
        {ROW_NAMES.map((r, i) => (
          <text key={r} transform={`translate(27, ${ROW_TOPS[i] + 76}) rotate(-90)`} textAnchor="middle" dominantBaseline="central" fontSize={19} fontWeight="bold" fontFamily={FONT} fill="#111">{r}</text>
        ))}
        {PANELS.map((p) => {
          const c = COLS[p.col];
          const top = ROW_TOPS[p.row];
          const y1 = c.textBottom ? top + 120 : top + 26;
          return (
            <g key={p.id}>
              <text x={c.left + 10} y={y1} fontSize={19} fontFamily={FONT} fill="#111">{p.text[0]}</text>
              <text x={c.left + 10} y={y1 + 21} fontSize={19} fontFamily={FONT} fill="#111">{p.text[1]}</text>
              <text x={c.left + c.width - (p.col === 3 ? 13 : 11)} y={top + 27} textAnchor="end" fontSize={19} fontWeight="bold" fontFamily={FONT} fill="#111">({p.id})</text>
            </g>
          );
        })}
        <rect x={6.5} y={403.5} width={1420} height={346.5} fill="none" stroke="#f00" strokeWidth={3.5} />
        <ellipse cx={168} cy={504} rx={48} ry={53} fill="none" stroke="#f00" strokeWidth={3} />
        <ellipse cx={195} cy={668} rx={48} ry={54} fill="none" stroke="#f00" strokeWidth={3} />
      </svg>
    </div>
  );
}
